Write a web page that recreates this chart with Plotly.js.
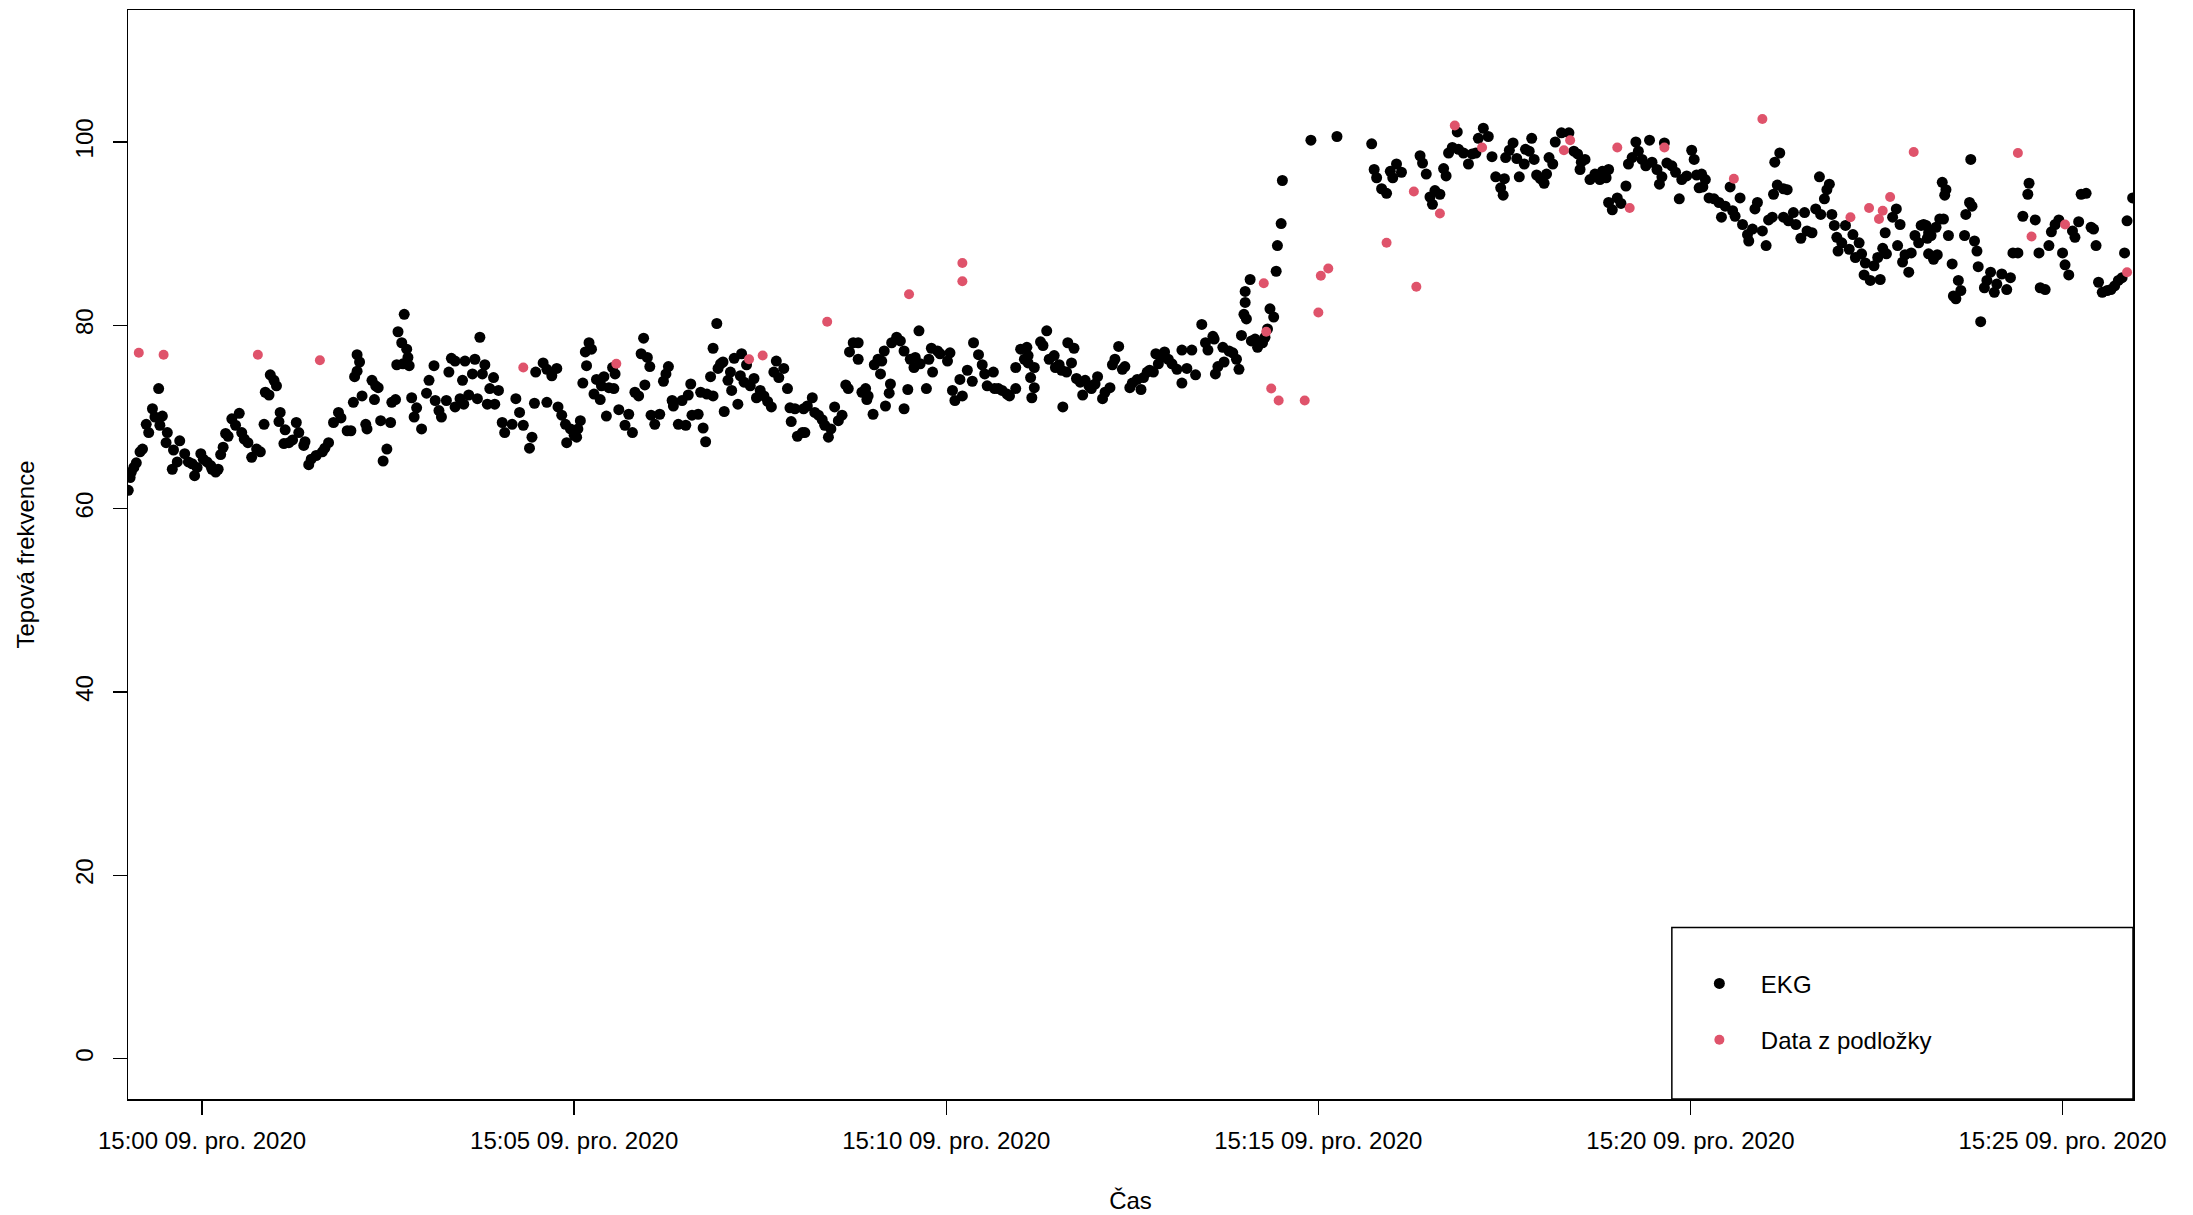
<!DOCTYPE html>
<html>
<head>
<meta charset="utf-8">
<script src="https://cdn.plot.ly/plotly-3.0.1.min.js"></script>
<style>
  html, body { margin: 0; padding: 0; background: #fff; }
  #chart { width: 2193px; height: 1215px; }
</style>
</head>
<body>
<div id="chart"></div>
<script>
// Time offsets are seconds relative to 15:00:00, 9 Dec 2020
const baseTime = Date.UTC(2020, 11, 9, 15, 0, 0);

// EKG heart rate: [seconds, bpm]
const ekgPoints = [
[-59.5,62.0],[-58,63.4],[-57,64.0],[-55,64.5],[-53,65.0],[-50,66.2],[-48,66.5],[-45,69.2],[-43,68.3],[-40,70.9],
[-38,70.0],[-35,73.1],[-34,69.1],[-32,70.1],[-29,67.2],[-28,68.3],[-24,64.3],[-23,66.4],[-20,65.1],[-18,67.4],
[-14,66.0],[-11,65.1],[-8,64.9],[-6,63.6],[-4,64.5],[-1,66.0],[1,65.4],[4,65.1],[7,64.7],[8,64.3],
[11,64.0],[13,64.3],[15,65.9],[17,66.7],[19,68.2],[21,67.9],[24,69.8],[27,69.1],[30,70.4],[32,68.3],
[34,67.6],[37,67.2],[40,65.6],[44,66.5],[47,66.2],[50,69.2],[51,72.7],[54,72.4],[55,74.6],[58,74.0],
[60,73.4],[62,69.5],[63,70.5],[66,67.1],[67,68.6],[70,67.2],[73,67.5],[76,69.4],[78,68.3],[82,66.9],
[83,67.3],[86,64.8],[88,65.4],[92,65.8],[97,66.2],[99,66.6],[102,67.2],[106,69.4],[110,70.5],[112,69.9],
[117,68.5],
[120,68.5],[122,71.6],[123,74.4],[125,76.8],[125,75.0],[127,76.0],[129,72.3],[132,69.2],[133,68.7],[137,74.0],
[139,71.9],[140,73.4],[142,73.2],[144,69.6],[146,65.2],[149,66.5],[152,69.4],[153,71.6],[156,71.9],[157,75.7],
[158,79.3],[161,78.1],[162,75.8],[163,81.2],[165,77.4],[166,76.5],[167,75.6],[169,72.1],[171,70.0],[173,71.0],
[177,68.7],[181,72.6],[183,74.0],[187,75.6],[188,71.8],[191,70.7],[193,70.0],[197,71.8],[199,74.9],[201,76.4],
[204,76.1],[204,71.1],[208,72.0],[210,74.0],[211,71.4],[212,76.1],[215,72.4],[218,74.7],[220,76.3],[222,72.0],
[224,78.7],[226,74.7],[228,75.7],[230,71.4],[232,73.1],[235,74.3],[236,71.4],[239,72.9],[242,69.4],[244,68.3],
[250,69.2],[253,72.0],[256,70.5],[259,69.1],[264,66.6],[266,67.8],[268,71.5],[269,74.9],[275,75.9],[278,75.2],
[278,71.6],[282,74.5],[286,75.3],[287,71.1],[290,70.2],[293,69.2],[294,67.2],[297,68.7],[300,68.0],
[302,67.8],[303,68.7],[305,69.6],[307,73.7],[309,77.1],[310,75.6],[312,78.1],[314,77.4],[316,72.5],[318,74.1],
[321,71.9],[322,73.4],[324,74.4],[326,70.1],[328,73.2],[331,75.4],[332,73.1],[333,74.7],[336,70.8],[341,69.1],
[344,70.3],[347,68.3],[349,72.7],[352,72.3],[354,76.9],[356,78.6],[357,73.5],[359,76.5],[361,75.5],[362,70.2],
[365,69.2],[369,70.3],[372,73.9],[374,74.7],[376,75.5],[379,71.8],[380,71.2],[384,69.2],[387,71.8],[390,69.1],
[392,72.4],[394,73.6],[395,70.2],[400,70.3],[402,72.7],[404,68.8],[406,67.3],[407,72.5],[410,74.4],[412,72.3],
[412,77.5],[415,80.2],[416,75.3],[418,75.8],[420,76.0],[421,70.6],[424,74.0],[426,74.9],[427,72.9],[429,76.4],
[432,71.4],[434,74.5],[435,76.9],[437,73.8],[439,75.7],[442,73.4],[445,74.2],[447,72.1],[450,72.9],[453,72.3],
[456,71.7],[459,71.1],[461,74.9],[463,76.1],[465,74.3],[469,75.3],[472,73.1],[474,71.0],[475,69.5],[478,70.9],
[480,67.9],
[484,68.3],[485,70.9],[486,68.3],[488,71.2],[492,72.1],[494,70.5],[497,70.2],[500,69.7],[502,69.1],[505,67.8],
[507,68.7],[510,71.1],[513,69.6],[516,70.2],[519,73.5],[521,73.1],[522,77.1],[525,78.1],[529,78.1],[529,76.3],
[532,72.7],[535,73.1],[536,71.9],[537,72.3],[541,70.3],[542,75.7],[545,76.3],[547,74.7],[548,76.1],[550,77.2],
[551,71.2],[554,72.6],[555,73.6],[556,78.1],[560,78.7],[563,78.3],[566,77.2],[566,70.9],[569,73.0],[571,76.3],
[574,75.4],[575,76.5],[578,79.4],[579,75.8],[584,73.1],[586,76.3],[588,77.5],[589,74.9],[593,77.2],[595,76.9],
[601,76.1],[603,77.0],[605,72.9],[607,71.8],[611,74.1],[613,72.3],[617,75.1],[621,73.9],[622,78.1],[626,76.8],
[629,75.7],[631,74.7],[633,73.4],[638,74.9],[639,73.1],[642,73.1],[645,72.9],[649,72.5],[651,72.3],[656,73.1],
[656,75.4],[660,77.4],[663,76.3],
[665,77.6],[666,76.7],[666,75.9],[668,74.3],[669,72.1],[671,75.4],[671,73.2],[676,78.2],[678,77.8],[681,79.4],
[683,76.3],[687,76.7],[688,75.4],[691,75.7],[693,75.1],[694,71.1],[697,74.9],[698,78.1],[701,75.9],[703,77.5],
[705,74.2],[708,73.8],[710,72.4],[712,74.0],[715,73.4],[717,73.1],[720,73.6],[722,74.4],[726,72.0],[728,72.7],
[732,73.2],[734,75.7],[736,76.3],[739,77.7],[742,75.2],[744,75.5],[748,73.2],[750,73.7],[754,74.1],[757,73.0],
[759,74.3],[762,74.9],[764,75.1],[767,74.9],[769,76.9],[771,75.8],[774,76.5],[776,77.1],[779,76.3],[782,75.8],
[786,75.2],[790,73.7],[790,77.3],[794,75.3],[798,77.3],[801,74.6],[806,80.1],[809,78.1],[811,77.3],[815,78.8],
[816,78.5],[817,74.7],[819,75.5],[823,77.6],[824,76.0],[828,77.2],[831,77.0],[834,76.3],[836,75.2],[838,78.9],
[840,81.2],[841,82.5],[841,83.7],[842,80.7],
[845,85.0],[846,78.3],[849,78.5],[851,77.6],[855,78.1],[857,78.7],[859,79.6],[861,81.8],[864,80.9],[866,85.9],
[867,88.7],[870,91.1],[871,95.8],[894,100.2],[915,100.6],[943,99.8],[945,97.0],[947,96.1],[951,94.9],[955,94.4],
[958,96.8],[960,96.1],[963,97.6],[967,96.7],[982,98.5],[984,97.7],[987,96.5],[990,94.0],[992,93.2],[994,94.7],
[998,94.3],[1001,97.1],[1003,96.3],[1005,98.8],[1008,99.4],[1012,101.1],[1013,99.2],[1017,98.8],[1021,97.6],[1024,98.7],
[1027,98.8],[1029,100.4],[1033,101.5],[1037,100.6],[1040,98.4],[1043,96.2],[1047,95.0],[1049,94.2],[1050,96.0],[1051,98.3],
[1054,99.1],[1057,99.9],[1060,98.2],[1062,96.2],[1066,97.6],[1067,99.2],[1070,99.0],[1072,100.4],[1074,98.1],[1076,96.4],
[1079,96.0],[1082,95.5],[1084,96.5],[1086,98.3],[1089,97.6],[1091,100.0],[1096,101.0],[1102,101.0],[1106,99.0],[1109,98.7],
[1111,97.0],[1112,97.8],[1115,98.1],[1119,95.9],[1123,96.5],[1127,95.9],[1129,96.8],[1132,96.1],[1134,97.0],[1134,93.4],
[1137,92.6],[1141,93.9],[1144,93.3],[1148,95.2],[1150,97.6],[1153,98.3],[1156,100.0],[1158,99.0],[1161,98.1],[1164,97.4],
[1167,100.2],[1169,97.8],[1173,97.0],[1175,95.4],[1177,96.2],[1179,99.9],[1181,97.7],[1185,97.4],[1188,96.7],[1191,93.8],
[1193,95.9],[1197,96.3],[1201,99.1],[1203,98.1],[1205,96.4],[1207,95.0],
[1209,96.5],[1210,95.1],[1212,95.9],[1215,93.9],[1219,93.8],[1223,93.4],[1225,91.8],[1228,93.0],[1232,95.1],[1234,92.5],
[1236,91.9],[1240,93.9],[1242,91.0],[1246,89.9],[1247,89.2],[1250,90.5],[1252,92.7],[1254,93.4],[1258,90.3],[1261,88.7],
[1263,91.5],[1266,91.8],[1267,94.3],[1268,97.8],[1270,95.3],[1272,98.8],[1275,94.9],[1275,91.8],[1278,94.8],[1279,91.4],
[1283,92.3],[1285,91.0],[1289,89.5],[1292,92.3],[1294,90.3],[1298,90.1],[1301,92.7],[1304,96.2],[1305,92.1],[1308,93.8],
[1310,94.8],[1312,95.4],[1314,92.1],[1316,90.9],[1318,89.6],[1319,88.1],[1322,89.0],[1325,90.9],[1328,88.3],[1331,89.9],
[1333,87.4],[1336,89.0],[1338,87.8],[1340,85.5],[1341,86.8],[1345,84.9],[1348,86.5],[1351,87.4],[1353,85.0],[1355,88.4],
[1357,90.1],[1358,87.8],[1363,91.8],[1366,92.7],[1367,88.7],[1369,91.0],[1371,86.9],[1373,87.7],[1376,85.8],[1378,87.9],
[1381,89.8],[1384,89.0],[1386,90.9],[1388,91.0],
[1390,90.9],[1391,89.5],[1392,90.1],[1392,87.8],[1394,89.8],[1396,87.2],[1398,90.7],[1399,87.7],[1401,91.6],[1403,95.6],
[1404,91.6],[1405,94.2],[1406,94.8],[1408,89.8],[1411,86.7],[1412,83.2],[1414,82.9],[1416,84.9],[1418,83.8],[1421,89.8],
[1422,92.1],[1425,93.4],[1426,98.1],[1427,93.0],[1429,89.2],[1431,88.1],[1432,86.4],[1434,80.4],[1437,84.1],[1439,84.9],
[1442,85.8],[1445,83.6],[1447,84.5],[1451,85.6],[1455,83.9],[1458,85.2],[1460,87.9],[1464,87.9],[1468,91.9],[1472,94.3],
[1473,95.5],[1478,91.5],[1481,87.9],[1482,84.1],[1486,83.9],[1489,88.7],[1491,90.2],[1494,91.0],[1497,91.5],[1500,87.9],
[1502,86.6],[1505,85.5],[1508,90.3],[1510,89.6],[1513,91.3],[1515,94.3],[1519,94.4],[1523,90.7],[1525,90.5],[1527,88.7],
[1529,84.7],[1532,83.6],[1536,83.8],[1539,83.9],[1542,84.3],[1545,84.9],[1548,85.2],[1550,87.9],[1552,91.4],[1556.5,93.9]
];

// Pad (podložka) heart rate: [seconds, bpm]
const padPoints = [
[-51,77.0],[-31,76.8],[45,76.8],[95,76.2],[259,75.4],[334,75.8],[441,76.3],[452,76.7],[504,80.4],[570,83.4],
[613,86.8],[613,84.8],[856,84.6],[858,79.3],[862,73.1],[868,71.8],[889,71.8],[900,81.4],[902,85.4],[908,86.2],
[955,89.0],[977,94.6],[979,84.2],[998,92.2],[1010,101.8],[1032,99.4],[1098,99.1],[1103,100.2],[1141,99.4],[1151,92.8],
[1179,99.4],[1235,96.0],[1258,102.5],[1329,91.8],[1344,92.8],[1352,91.6],[1355,92.5],[1361,94.0],[1380,98.9],[1464,98.8],
[1475,89.7],[1502,91.0],[1552,85.8]
];

const seriesNames = ["EKG", "Data z podložky"];
const seriesColors = ["#000000", "#DF536B"];
const tickMinutes = [0, 5, 10, 15, 20, 25];
const tickLabels = ["15:00 09. pro. 2020", "15:05 09. pro. 2020", "15:10 09. pro. 2020",
                    "15:15 09. pro. 2020", "15:20 09. pro. 2020", "15:25 09. pro. 2020"];
const yTicks = [0, 20, 40, 60, 80, 100];
const xRangeSec = [-59.7, 1556.8];
const yRange = [-4.4, 114.4];

const toTime = s => baseTime + s * 1000;
const FONT = "'Liberation Sans', Arial, Helvetica, sans-serif";

const traces = [
  {
    type: "scatter", mode: "markers", name: seriesNames[0], legendgroup: "a",
    x: ekgPoints.map(p => toTime(p[0])), y: ekgPoints.map(p => p[1]),
    marker: { color: seriesColors[0], size: 11, line: { width: 0 } },
    hoverinfo: "skip"
  },
  {
    type: "scatter", mode: "markers", name: seriesNames[1], legendgroup: "b",
    x: padPoints.map(p => toTime(p[0])), y: padPoints.map(p => p[1]),
    marker: { color: seriesColors[1], size: 10, line: { width: 0 } },
    hoverinfo: "skip"
  }
];

const layout = {
  width: 2193, height: 1215,
  margin: { l: 128, r: 60, t: 10, b: 116, pad: 0 },
  paper_bgcolor: "#ffffff", plot_bgcolor: "#ffffff",
  font: { family: FONT, size: 24, color: "#000" },
  showlegend: true,
  xaxis: {
    type: "date",
    range: xRangeSec.map(toTime),
    tickmode: "array",
    tickvals: tickMinutes.map(m => toTime(m * 60)),
    ticktext: tickLabels,
    ticks: "outside", ticklen: 14, tickwidth: 1.5, tickcolor: "#000",
    ticklabelstandoff: 6,
    showline: true, mirror: true, linecolor: "#000", linewidth: 1.5,
    showgrid: false, zeroline: false,
    tickfont: { family: FONT, size: 24, color: "#000" },
    title: { text: "Čas", font: { family: FONT, size: 24, color: "#000" }, standoff: 39 },
    automargin: false, fixedrange: true
  },
  yaxis: {
    range: yRange,
    tickmode: "array", tickvals: yTicks, ticktext: yTicks.map(String),
    tickangle: -90,
    ticks: "outside", ticklen: 14, tickwidth: 1.5, tickcolor: "#000",
    ticklabelstandoff: 10,
    showline: true, mirror: true, linecolor: "#000", linewidth: 1.5,
    showgrid: false, zeroline: false,
    tickfont: { family: FONT, size: 24, color: "#000" },
    title: { text: "Tepová frekvence", font: { family: FONT, size: 24, color: "#000" }, standoff: 29 },
    automargin: false, fixedrange: true
  },
  legend: {
    x: 0.773, xanchor: "left", y: 0.08, yanchor: "middle",
    bgcolor: "rgba(0,0,0,0)", borderwidth: 0,
    font: { family: FONT, size: 24, color: "#000" },
    tracegroupgap: 22, itemwidth: 73, itemsizing: "trace"
  },
  shapes: [
    { type: "rect", xref: "paper", yref: "paper", x0: 0.770, x1: 1, y0: 0, y1: 0.1575,
      line: { color: "#000", width: 1.5 }, fillcolor: "#ffffff", layer: "below" }
  ]
};

Plotly.newPlot("chart", traces, layout, { displayModeBar: false, staticPlot: true });
</script>
</body>
</html>
